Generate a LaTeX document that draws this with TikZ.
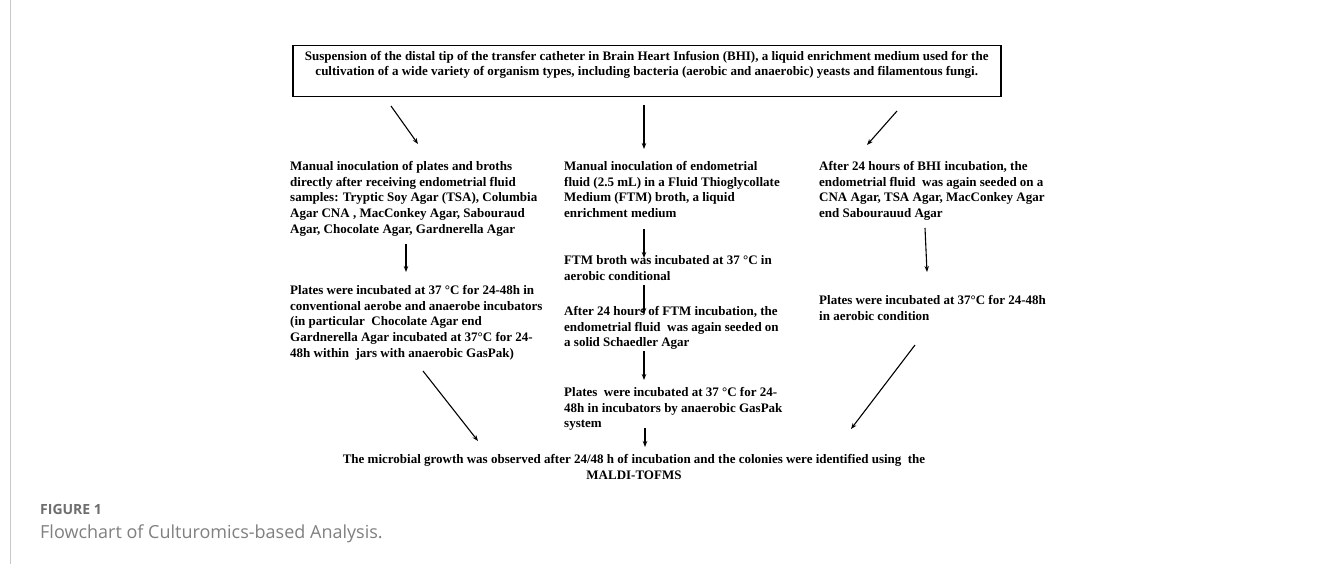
\documentclass[tikz,border=0pt]{standalone}
\usepackage{fontspec}
\setmainfont{Liberation Serif}
\newfontfamily\capfont{Open Sans}
\usetikzlibrary{arrows.meta}
\definecolor{capgray}{HTML}{6E6E6E}
\definecolor{capgray2}{HTML}{808080}
\definecolor{framegray}{HTML}{C8C8C8}
\begin{document}
\begin{tikzpicture}[x=1pt,y=-1pt,
  txt/.style={font=\fontsize{13}{15.8}\selectfont\bfseries, align=left, inner sep=0pt, anchor=north west},
  arr/.style={-{Stealth[length=6pt,width=4.5pt]}, line width=1.1pt},
]
\useasboundingbox (0,0) rectangle (1322,564);
\fill[white] (0,0) rectangle (1322,564);
\draw[framegray, line width=1pt] (10.5,0) -- (10.5,564);

% top box
\node[draw, line width=1.5pt, minimum width=708pt, minimum height=51pt, inner xsep=0pt, inner ysep=4pt,
      anchor=north west, align=center, font=\fontsize{13}{15.8}\selectfont\bfseries] (box) at (292,45)
  {Suspension of the distal tip of the transfer catheter in Brain Heart Infusion (BHI), a liquid enrichment medium used for the\\
   cultivation of a wide variety of organism types, including bacteria (aerobic and anaerobic) yeasts and filamentous fungi.\\ \mbox{}};

% left column
\node[txt] (l1) at (290,161) {Manual inoculation of plates and broths\\
directly after receiving endometrial fluid\\
samples: Tryptic Soy Agar (TSA), Columbia\\
Agar CNA , MacConkey Agar, Sabouraud\\
Agar, Chocolate Agar, Gardnerella Agar};
\node[txt] (l2) at (290,285) {Plates were incubated at 37 °C for 24-48h in\\
conventional aerobe and anaerobe incubators\\
(in particular \ Chocolate Agar end\\
Gardnerella Agar incubated at 37°C for 24-\\
48h within \ jars with anaerobic GasPak)};

% middle column
\node[txt] (m1) at (564,161) {Manual inoculation of endometrial\\
fluid (2.5 mL) in a Fluid Thioglycollate\\
Medium (FTM) broth, a liquid\\
enrichment medium};
\node[txt] (m2) at (564,255) {FTM broth was incubated at 37 °C in\\
aerobic conditional};
\node[txt] (m3) at (564,306) {After 24 hours of FTM incubation, the\\
endometrial fluid \ was again seeded on\\
a solid Schaedler Agar};
\node[txt] (m4) at (564,387) {Plates \ were incubated at 37 °C for 24-\\
48h in incubators by anaerobic GasPak\\
system};

% right column
\node[txt] (r1) at (819,161) {After 24 hours of BHI incubation, the\\
endometrial fluid \ was again seeded on a\\
CNA Agar, TSA Agar, MacConkey Agar\\
end Sabourauud Agar};
\node[txt] (r2) at (819,295) {Plates were incubated at 37°C for 24-48h\\
in aerobic condition};

% final
\node[font=\fontsize{13}{15.8}\selectfont\bfseries, align=center, inner sep=0pt, anchor=north] (fin) at (634,454)
  {The microbial growth was observed after 24/48 h of incubation and the colonies were identified using \ the\\
   MALDI-TOFMS};

% arrow end points
\coordinate (a1s) at (391,106); \coordinate (a1e) at (418,144);
\coordinate (a2s) at (644,105); \coordinate (a2e) at (644,149);
\coordinate (a3s) at (897,111); \coordinate (a3e) at (867,145);
\coordinate (a4s) at (406,244); \coordinate (a4e) at (406,272);
\coordinate (a5s) at (644,229); \coordinate (a5e) at (644,258);
\coordinate (a6s) at (644,285); \coordinate (a6e) at (644,314);
\coordinate (a7s) at (644,351); \coordinate (a7e) at (644,380);
\coordinate (a8s) at (645,428); \coordinate (a8e) at (645,447);
\coordinate (a9s) at (925,228); \coordinate (a9e) at (927,272);
\coordinate (a10s) at (423,371); \coordinate (a10e) at (478,441);
\coordinate (a11s) at (915,345); \coordinate (a11e) at (851,429);

\foreach \s/\e in {a1s/a1e,a2s/a2e,a3s/a3e,a4s/a4e,a5s/a5e,a6s/a6e,a7s/a7e,a8s/a8e,a9s/a9e,a10s/a10e,a11s/a11e}
  \draw[arr] (\s) -- (\e);

% caption
\node[anchor=base west, inner sep=0pt, font=\capfont\fontsize{14}{16}\selectfont\bfseries, text=capgray] (figlbl) at (40,514) {FIGURE 1};
\node[anchor=base west, inner sep=0pt, font=\capfont\fontsize{18}{21}\selectfont, text=capgray2] (figcap) at (40,538) {Flowchart of Culturomics-based Analysis.};
\end{tikzpicture}
\end{document}
